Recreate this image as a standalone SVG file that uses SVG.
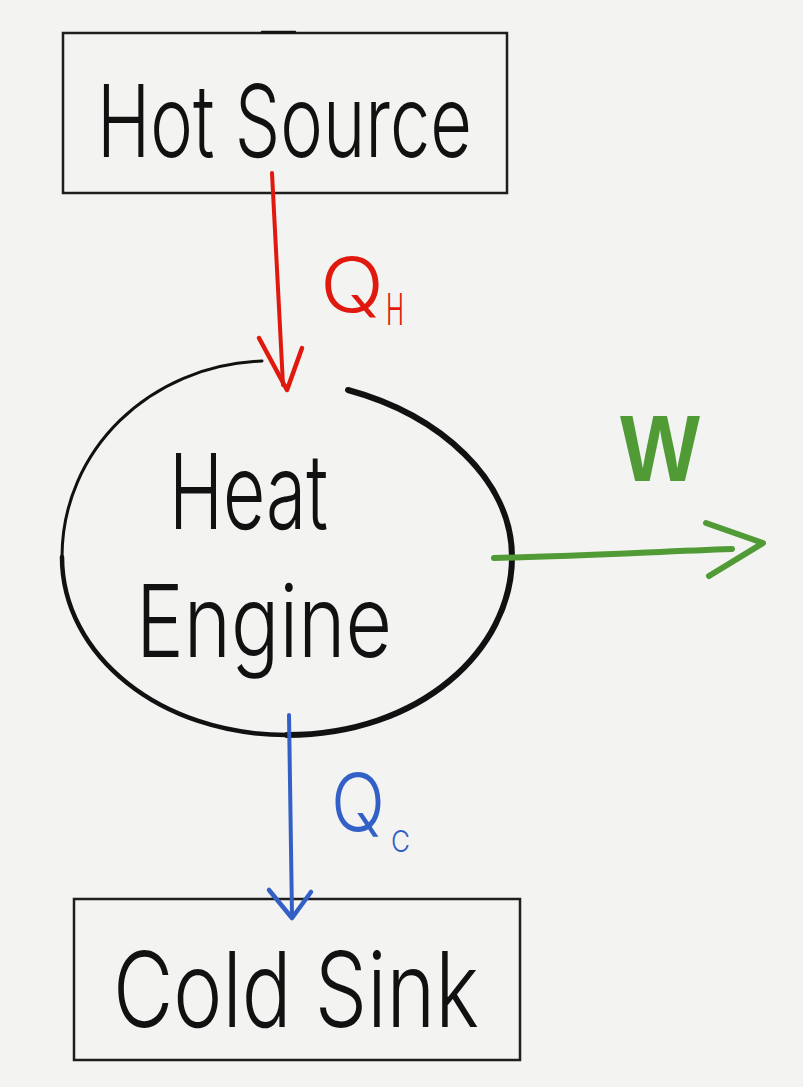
<svg xmlns="http://www.w3.org/2000/svg" width="803" height="1087" viewBox="0 0 803 1087">
<style>
.box{fill:none;stroke:#1e1e1e;stroke-width:2.5}
.hand{font-family:"Inter","Liberation Sans",Arial,sans-serif;font-weight:300;fill:#111}
.ink{fill:none;stroke:#111;stroke-linecap:round;stroke-linejoin:round}
.red{fill:none;stroke:#e0180e;stroke-linecap:round;stroke-linejoin:round}
.green{fill:none;stroke:#519b37;stroke-linecap:round;stroke-linejoin:round}
.blue{fill:none;stroke:#3360c6;stroke-linecap:round;stroke-linejoin:round}
.lbl{font-family:"Inter","Liberation Sans",Arial,sans-serif;font-weight:300}
</style>
<rect width="803" height="1087" fill="#f3f3f1"/>
<g id="hot-source">
<rect class="box" x="63" y="33" width="444" height="160"/>
<path class="ink" d="M262 32 L295 32" stroke-width="2.5"/>
<text class="hand" x="97" y="157" font-size="100" textLength="375" lengthAdjust="spacingAndGlyphs">Hot Source</text>
</g>
<g id="heat-engine">
<path class="ink" d="M348 390 C440 415 512 480 512 557 C512 650 420 735 287 735" stroke-width="6"/>
<path class="ink" d="M287 735 C160 735 62 655 62 557" stroke-width="4.5"/>
<path class="ink" d="M62 557 C62 450 150 365 262 361" stroke-width="3"/>
<text class="hand" x="169" y="529" font-size="105" textLength="159" lengthAdjust="spacingAndGlyphs">Heat</text>
<text class="hand" x="136" y="657" font-size="100" textLength="256" lengthAdjust="spacingAndGlyphs">Engine</text>
</g>
<g id="cold-sink">
<rect class="box" x="74" y="899" width="446" height="161"/>
<text class="hand" x="113" y="1027" font-size="105" textLength="366" lengthAdjust="spacingAndGlyphs">Cold Sink</text>
</g>
<g id="connectors">
<g id="qh-arrow">
<path class="red" d="M272 173 L283 385" stroke-width="4"/>
<path class="red" d="M259 338 L287 390 L302 348" stroke-width="4.5"/>
</g>
<g id="w-arrow">
<path class="green" d="M494 558 C580 556 650 552 732 549" stroke-width="6"/>
<path class="green" d="M706 523 L763 543 L709 576" stroke-width="6"/>
</g>
<g id="qc-arrow">
<path class="blue" d="M289 715 L292 915" stroke-width="4"/>
<path class="blue" d="M269 890 L292 918 L311 892" stroke-width="4.5"/>
</g>
</g>
<g id="labels">
<g id="label-qh" class="lbl" fill="#e0180e">
<text x="320" y="312" font-size="75" textLength="64" lengthAdjust="spacingAndGlyphs">Q</text>
<text x="386" y="325" font-size="44" textLength="18" lengthAdjust="spacingAndGlyphs">H</text>
</g>
<g id="label-w" fill="#519b37" font-family="Liberation Sans, Arial, sans-serif">
<text x="620" y="481" font-size="95" font-weight="bold" textLength="80" lengthAdjust="spacingAndGlyphs">W</text>
</g>
<g id="label-qc" class="lbl" fill="#3360c6">
<text x="331" y="831" font-size="80" textLength="54" lengthAdjust="spacingAndGlyphs">Q</text>
<text x="391" y="852" font-size="30" textLength="19" lengthAdjust="spacingAndGlyphs">C</text>
</g>
</g>
</svg>
